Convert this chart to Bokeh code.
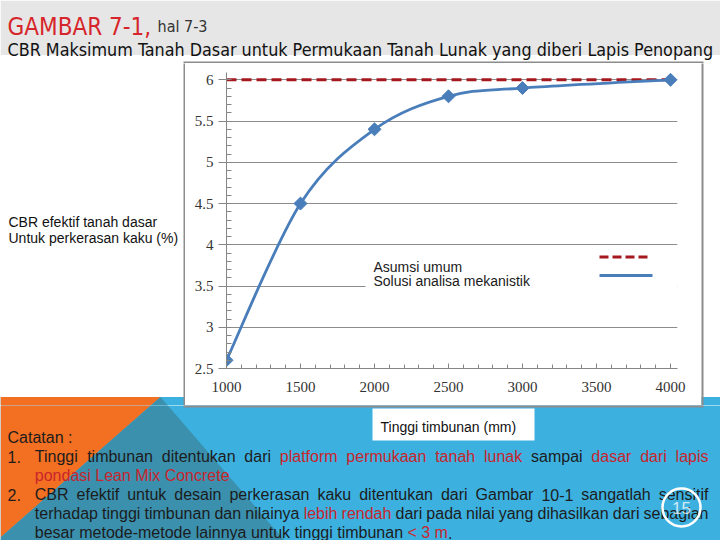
import numpy as np
from bokeh.plotting import figure
from bokeh.layouts import column, row
from bokeh.models import (Range1d, SingleIntervalTicker, NumeralTickFormatter,
                          BoxAnnotation, Label, Arrow, ColumnDataSource)
from bokeh.core.properties import value
from bokeh.embed import file_html
from bokeh.resources import INLINE

# ---------------- data ----------------
tinggi_timbunan_mm = [1000, 1500, 2000, 2500, 3000, 4000]
cbr_solusi_mekanistik = [2.6, 4.5, 5.4, 5.8, 5.9, 6.0]
cbr_asumsi_umum = [6.0, 6.0, 6.0, 6.0, 6.0, 6.0]
x_axis_limits = [1000, 4000]
y_axis_limits = [2.5, 6.0]
x_tick_interval = 500
y_tick_interval = 0.5

legend_labels = ["Asumsi umum", "Solusi analisa mekanistik"]
y_axis_title = ["CBR efektif tanah dasar", "Untuk perkerasan kaku (%)"]
x_axis_title = "Tinggi timbunan (mm)"
title_main = "GAMBAR 7-1,"
title_page = "hal 7-3"
subtitle = "CBR Maksimum Tanah Dasar untuk Permukaan Tanah Lunak yang diberi Lapis Penopang"

# ---------------- page layout (pixels of the 720x540 slide) ----------------
XS = [0, 185, 701, 720]      # column cuts
YS = [0, 63, 405, 540]       # row cuts

GRAY_BAND = "#e6e6e6"
BLUE_BG = "#3cb1e0"
ORANGE = "#f36f21"
TEAL = "#3b90ae"
FRAME_GRAY = "#8c8c8c"
RED = "#a5191e"
BLUE = "#4a7ebb"
INK = "#1c1c1c"
RED_TXT = "#c8252c"


def deco_fig(x0, x1, y0, y1):
    f = figure(width=x1 - x0, height=y1 - y0, output_backend="svg",
               toolbar_location=None, x_range=Range1d(x0, x1),
               y_range=Range1d(y1, y0), x_axis_type=None, y_axis_type=None,
               min_border=0, frame_align=False)
    f.outline_line_color = None
    f.background_fill_color = "white"
    f.border_fill_color = "white"
    f.grid.visible = False
    # slide background shapes (each figure shows only its own part)
    f.quad(left=[0], right=[720], top=[0], bottom=[54.5], fill_color=GRAY_BAND,
           line_color=None)
    f.quad(left=[0], right=[720], top=[396.5], bottom=[540], fill_color=BLUE_BG,
           line_color=None)
    f.patch([0, 160, 0], [396.5, 396.5, 537], fill_color=ORANGE, line_color=None)
    f.patch([160, 284, 0, 0], [396.5, 540, 540, 537], fill_color=TEAL,
            line_color=None)
    # picture frame around the chart
    f.quad(left=[183], right=[703], top=[61], bottom=[407], fill_color=FRAME_GRAY,
           line_color=None)
    return f


def txt(f, x, y, text, size, color, font="Liberation Sans", align="left",
        baseline="alphabetic", alpha=1.0):
    f.text(x=x, y=y, text=text, text_font=value(font),
           text_font_size=value(f"{size}px"), text_color=color,
           text_align=align, text_baseline=baseline, text_alpha=alpha)


header = deco_fig(XS[0], XS[3], YS[0], YS[1])
left = deco_fig(XS[0], XS[1], YS[1], YS[2])
right = deco_fig(XS[2], XS[3], YS[1], YS[2])
bottom = deco_fig(XS[0], XS[3], YS[2], YS[3])

# header texts
txt(header, [7], [26], [title_main], 24, "#d7262b", font="DejaVu Sans Condensed")
txt(header, [157], [26], [title_page], 16, "#333333", font="DejaVu Sans Condensed")
txt(header, [7], [49], [subtitle], 17.8, "#111111", font="DejaVu Sans Condensed")

# y axis title (left of the chart picture)
txt(left, [8, 8], [221.5, 237], y_axis_title, 14, "#111111")

# ---------------- chart ----------------
CX0, CX1, CY0, CY1 = XS[1], XS[2], YS[1], YS[2]
AX_L, AX_R_DATA, FR_R = 226, 670, 677
AX_B, AX_T_DATA, FR_T = 368, 79.3, 72

kx = (AX_R_DATA - AX_L) / (x_axis_limits[1] - x_axis_limits[0])
x_end = x_axis_limits[0] + (FR_R - AX_L) / kx
ky = (AX_B - AX_T_DATA) / (y_axis_limits[1] - y_axis_limits[0])
y_end = y_axis_limits[0] + (AX_B - FR_T) / ky

p = figure(width=CX1 - CX0, height=CY1 - CY0, output_backend="svg",
           toolbar_location=None, frame_align=False,
           x_range=Range1d(x_axis_limits[0], x_end),
           y_range=Range1d(y_axis_limits[0], y_end),
           min_border_left=AX_L - CX0, min_border_right=CX1 - FR_R,
           min_border_top=FR_T - CY0, min_border_bottom=CY1 - AX_B)
p.outline_line_color = None
p.background_fill_color = "white"
p.border_fill_color = "white"

AX_COL = "#868686"
p.xaxis.ticker = SingleIntervalTicker(interval=x_tick_interval, num_minor_ticks=5)
p.yaxis.ticker = SingleIntervalTicker(interval=y_tick_interval, num_minor_ticks=5)
p.yaxis.formatter = NumeralTickFormatter(format="0.[0]")
for ax in (p.xaxis[0], p.yaxis[0]):
    ax.axis_line_color = AX_COL
    ax.major_tick_line_color = AX_COL
    ax.minor_tick_line_color = AX_COL
    ax.major_label_text_font = "Liberation Serif"
    ax.major_label_text_font_size = "15px"
    ax.major_label_text_color = "#333333"
p.xaxis.major_tick_in = 5
p.xaxis.major_tick_out = 0
p.xaxis.minor_tick_in = 4
p.xaxis.minor_tick_out = 0
p.xaxis.major_label_standoff = 13
p.yaxis.major_tick_in = 0
p.yaxis.major_tick_out = 8
p.yaxis.minor_tick_in = 5
p.yaxis.minor_tick_out = 0
p.yaxis.major_label_standoff = 5
p.xgrid.visible = False
p.ygrid.grid_line_color = "#8c8c8c"

# red dashed "asumsi umum"
p.line(tinggi_timbunan_mm, cbr_asumsi_umum, line_color=RED, line_width=3,
       line_dash="10 5")

# smoothed blue curve (bezier segments through the data points)
xs = np.array(tinggi_timbunan_mm, dtype=float)
ys = np.array(cbr_solusi_mekanistik, dtype=float)
n = len(xs)
xp = np.concatenate([[xs[0]], xs, [xs[-1]]])
yp = np.concatenate([[ys[0]], ys, [ys[-1]]])
c0x = xp[1:n] + (xp[2:n + 1] - xp[0:n - 1]) / 6.0
c0y = yp[1:n] + (yp[2:n + 1] - yp[0:n - 1]) / 6.0
c1x = xp[2:n + 1] - (xp[3:n + 2] - xp[1:n]) / 6.0
c1y = yp[2:n + 1] - (yp[3:n + 2] - yp[1:n]) / 6.0
p.bezier(x0=xs[:-1], y0=ys[:-1], x1=xs[1:], y1=ys[1:],
         cx0=c0x, cy0=c0y, cx1=c1x, cy1=c1y, line_color=BLUE, line_width=2.8)
p.scatter(tinggi_timbunan_mm, cbr_solusi_mekanistik, marker="square",
          angle=np.pi / 4, size=9.2, fill_color=BLUE, line_color=BLUE)


# legend (text on the left, line samples on the right)
def cbox(l, r, t, b, fill):
    p.add_layout(BoxAnnotation(left=l - CX0, right=r - CX0, top=t - CY0,
                               bottom=b - CY0, left_units="canvas",
                               right_units="canvas", top_units="canvas",
                               bottom_units="canvas", fill_color=fill,
                               fill_alpha=1.0, line_color=None))


def clabel(x, y, text, size, color):
    p.add_layout(Label(x=x - CX0, y=y - CY0, x_units="canvas", y_units="canvas",
                       text=text, text_font="Liberation Sans",
                       text_font_size=f"{size}px", text_color=color,
                       text_baseline="alphabetic"))


def cseg(x0, y0, x1, y1, color, lw, dash="solid"):
    p.add_layout(Arrow(x_start=x0 - CX0, y_start=y0 - CY0, x_end=x1 - CX0,
                       y_end=y1 - CY0, start_units="canvas", end_units="canvas",
                       end=None, line_color=color, line_width=lw, line_dash=dash))


cbox(365, FR_R, 249, 291, "white")
clabel(373, 266, legend_labels[0], 14, "#1a1a1a")
clabel(373, 280, legend_labels[1], 14, "#1a1a1a")
cseg(599, 256.5, 649, 256.5, RED, 3, "9 4")
cseg(599, 275, 652, 275, BLUE, 3)

# ---------------- bottom part: x axis title, notes, page number ----------------
bottom.quad(left=[372], right=[534], top=[408], bottom=[440], fill_color="white",
            line_color=None)
txt(bottom, [380], [426.5], [x_axis_title], 14, "#111111")

ARIAL = dict(zip("abcdefghijklmnopqrstuvwxyz",
                 [556, 556, 500, 556, 556, 278, 556, 556, 222, 222, 500, 222, 833,
                  556, 556, 556, 556, 333, 500, 278, 556, 500, 722, 500, 500, 500]))
ARIAL.update(dict(zip("ABCDEFGHIJKLMNOPQRSTUVWXYZ",
                      [667, 667, 722, 722, 667, 611, 778, 722, 278, 500, 667, 556, 833,
                       722, 778, 667, 778, 722, 667, 611, 722, 667, 944, 667, 667, 611])))
ARIAL.update({d: 556 for d in "0123456789"})
ARIAL.update({" ": 278, "-": 333, ".": 278, ",": 278, "<": 584, "(": 333, ")": 333,
              "%": 889, ":": 278})


def tw(s, size):
    return sum(ARIAL.get(c, 556) for c in s) * size / 1000.0


NOTE = 16
X0, X1 = 34.3, 708.0
notes = [
    ("1.", [("Tinggi timbunan ditentukan dari", INK), ("platform permukaan tanah lunak", RED_TXT),
            ("sampai", INK), ("dasar dari lapis", RED_TXT)], True),
    (None, [("pondasi Lean Mix Concrete", RED_TXT)], False),
    ("2.", [("CBR efektif untuk desain perkerasan kaku ditentukan dari Gambar 10-1 sangatlah sensitif", INK)], True),
    (None, [("terhadap tinggi timbunan dan nilainya", INK), ("lebih rendah", RED_TXT),
            ("dari pada nilai yang dihasilkan dari sebagian", INK)], True),
    (None, [("besar metode-metode lainnya untuk tinggi timbunan", INK), ("< 3 m", RED_TXT),
            (".", INK)], False),
]

nx, ny, nt, nc = [7], [437], ["Catatan :"], [INK]
base = 456.0
for num, segs, justified in notes:
    if num:
        nx.append(7); ny.append(base); nt.append(num); nc.append(INK)
    if justified:
        words = [(w, c) for s, c in segs for w in s.split(" ")]
        widths = [tw(w, NOTE) for w, _ in words]
        gap = (X1 - X0 - sum(widths)) / (len(words) - 1)
        x = X0
        for (w, c), wd in zip(words, widths):
            nx.append(x); ny.append(base); nt.append(w); nc.append(c)
            x += wd + gap
    else:
        x = X0
        for i, (s, c) in enumerate(segs):
            if i > 0 and not s.startswith("."):
                x += tw(" ", NOTE)
            nx.append(x); ny.append(base); nt.append(s); nc.append(c)
            x += tw(s, NOTE)
    base += 19.0

bottom.text(x="x", y="y", text="text", text_color="color",
            source=ColumnDataSource(dict(x=nx, y=ny, text=nt, color=nc)),
            text_font=value("Liberation Sans"), text_font_size=value(f"{NOTE}px"),
            text_baseline="alphabetic")

# page number ring
bottom.scatter(x=[681], y=[507], marker="circle", size=38, fill_color=None,
               line_color="white", line_width=2.5)
txt(bottom, [681], [507], ["15"], 17, "white", align="center", baseline="middle",
    alpha=0.75)

layout = column(header, row(left, p, right), bottom)
open("out.html", "w").write(file_html(layout, INLINE))
